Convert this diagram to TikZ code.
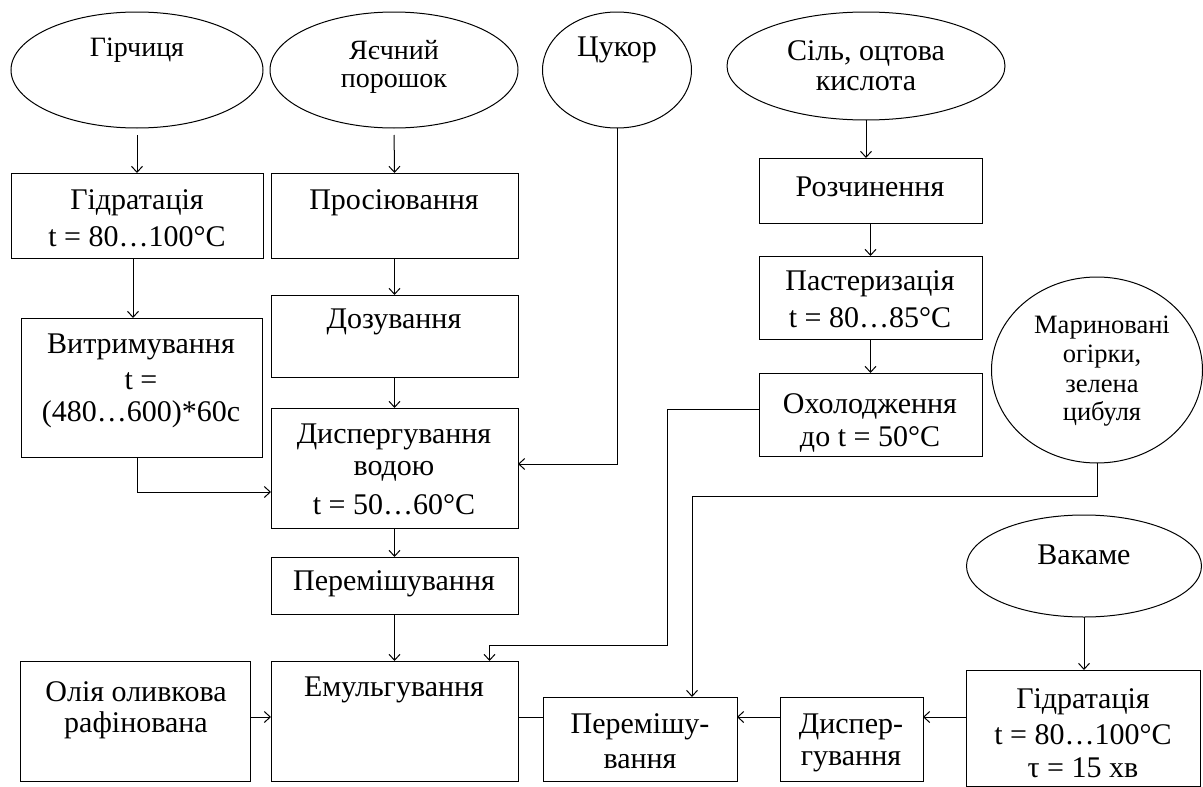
\documentclass[tikz,border=0pt]{standalone}
\usepackage{fontspec}
\setmainfont{Liberation Serif}
\usetikzlibrary{arrows.meta,shapes.geometric,calc}
\tikzset{
  box/.style={draw,line width=1pt,rectangle,inner sep=0pt,outer sep=0pt},
  oval/.style={draw,line width=1pt,ellipse,inner sep=0pt,outer sep=0pt},
  txt/.style={inner sep=0pt,font=\fontsize{30}{34}\selectfont},
  stxt/.style={inner sep=0pt,font=\fontsize{28}{32}\selectfont},
  mtxt/.style={inner sep=0pt,font=\fontsize{26.5}{29}\selectfont},
  ln/.style={line width=1pt},
  arr/.style={line width=1pt,-{Straight Barb[length=6pt,width=11pt]}},
}
\newcommand\mkbox[5]{\node[box,minimum width={#4pt-#2pt},minimum height={#5pt-#3pt}] (#1) at ({(#2+#4)/2},{(#3+#5)/2}) {};}
\begin{document}
\begin{tikzpicture}[x=1pt,y=-1pt]
\useasboundingbox (0,0) rectangle (1203,787);
% ovals
\node[oval,minimum width=252pt,minimum height=116pt] (gir) at (137,70) {};
\node[oval,minimum width=248pt,minimum height=116pt] (yay) at (394,70) {};
\node[oval,minimum width=149pt,minimum height=116pt] (suk) at (617,70) {};
\node[oval,minimum width=278pt,minimum height=108pt] (sil) at (866,66) {};
\node[oval,minimum width=211pt,minimum height=186pt] (mar) at (1097,370) {};
\node[oval,minimum width=235pt,minimum height=102pt] (vak) at (1084,566) {};
% boxes
\mkbox{hyd}{11}{173}{263}{258}
\mkbox{pros}{271}{173}{518}{258}
\mkbox{rozch}{759}{158}{982}{223}
\mkbox{past}{759}{256}{982}{339}
\mkbox{okh}{759}{373}{982}{456}
\mkbox{vytr}{21}{318}{262}{457}
\mkbox{doz}{271}{295}{518}{377}
\mkbox{disp}{271}{408}{518}{528}
\mkbox{perem}{271}{557}{518}{614}
\mkbox{emul}{271}{661}{518}{781}
\mkbox{oliya}{20}{661}{250}{781}
\mkbox{perem2}{543}{697}{737}{781}
\mkbox{disp2}{780}{697}{923}{781}
\mkbox{hyd2}{966}{670}{1200}{786}
% texts
\node[stxt] (t1) at (137,50) {Гірчиця};
\node[stxt] (t2a) at (394,50) {Яєчний};
\node[stxt] (t2b) at (394,84) {порошок};
\node[txt] (t3) at (617,50) {Цукор};
\node[txt] (t4a) at (866,53) {Сіль, оцтова};
\node[txt] (t4b) at (866,84) {кислота};
\node[txt] (t5a) at (137,203) {Гідратація};
\node[txt] (t5b) at (137,237) {t = 80…100°C};
\node[txt] (t6) at (394,203) {Просіювання};
\node[txt] (t7) at (870,187) {Розчинення};
\node[txt] (t8a) at (870,284) {Пастеризація};
\node[txt] (t8b) at (870,318) {t = 80…85°C};
\node[txt] (t9a) at (870,406) {Охолодження};
\node[txt] (t9b) at (870,439) {до t = 50°C};
\node[txt] (t10a) at (141,347) {Витримування};
\node[txt] (t10b) at (141,381) {t =};
\node[txt] (t10c) at (141,414) {(480…600)*60с};
\node[txt] (t11) at (394,322) {Дозування};
\node[txt] (t12a) at (394,437) {Диспергування};
\node[txt] (t12b) at (394,471) {водою};
\node[txt] (t12c) at (394,505) {t = 50…60°C};
\node[mtxt] (t13a) at (1102,328) {Мариновані};
\node[mtxt] (t13b) at (1102,357) {огірки,};
\node[mtxt] (t13c) at (1102,386) {зелена};
\node[mtxt] (t13d) at (1102,414) {цибуля};
\node[txt] (t14) at (1084,555) {Вакаме};
\node[txt] (t15) at (394,584) {Перемішування};
\node[txt] (t16a) at (136,692) {Олія оливкова};
\node[txt] (t16b) at (136,725) {рафінована};
\node[txt] (t17) at (394,690) {Емульгування};
\node[txt] (t18a) at (640,727) {Перемішу-};
\node[txt] (t18b) at (640,762) {вання};
\node[txt] (t19a) at (851,727) {Диспер-};
\node[txt] (t19b) at (851,762) {гування};
\node[txt] (t20a) at (1083,702) {Гідратація};
\node[txt] (t20b) at (1083,735) {t = 80…100°C};
\node[txt] (t20c) at (1083,768) {τ = 15 хв};
% helper coordinates
\coordinate (j1) at (667,645);
\coordinate (j2) at (692,496);
\coordinate (ylev) at (0,717);
% connectors
\draw[arr,shorten <=7pt] (gir.south) -- (hyd.north);
\draw[arr,shorten <=7pt] (yay.south) -- (pros.north);
\draw[arr] (sil.south) -- (rozch.north -| sil.south);
\draw[arr] ([xshift=-4pt]hyd.south) -- ([xshift=-4pt]hyd.south |- vytr.north);
\draw[arr] (pros.south) -- (doz.north);
\draw[arr] (doz.south) -- (disp.north);
\draw[arr] (disp.south) -- (perem.north);
\draw[arr] (perem.south) -- (emul.north);
\draw[arr] (rozch.south) -- (past.north);
\draw[arr] (past.south) -- (okh.north);
\draw[arr] ([xshift=-4pt]vytr.south) |- ($(disp.west)+(0,24)$);
\draw[arr] (suk.south) |- ($(disp.east)+(0,-4)$);
\draw[arr] ($(okh.west)+(0,-5.5)$) -| (j1) -| ($(emul.north)+(95,0)$);
\draw[arr] (mar.south) |- (j2) -- (j2 |- perem2.north);
\draw[arr] (vak.south) -- (hyd2.north -| vak.south);
\draw[arr] (oliya.east |- ylev) -- (emul.west |- ylev);
\draw[ln] (emul.east |- ylev) -- (perem2.west |- ylev);
\draw[arr] (hyd2.west |- ylev) -- (disp2.east |- ylev);
\draw[arr] (disp2.west |- ylev) -- (perem2.east |- ylev);
\end{tikzpicture}
\end{document}
